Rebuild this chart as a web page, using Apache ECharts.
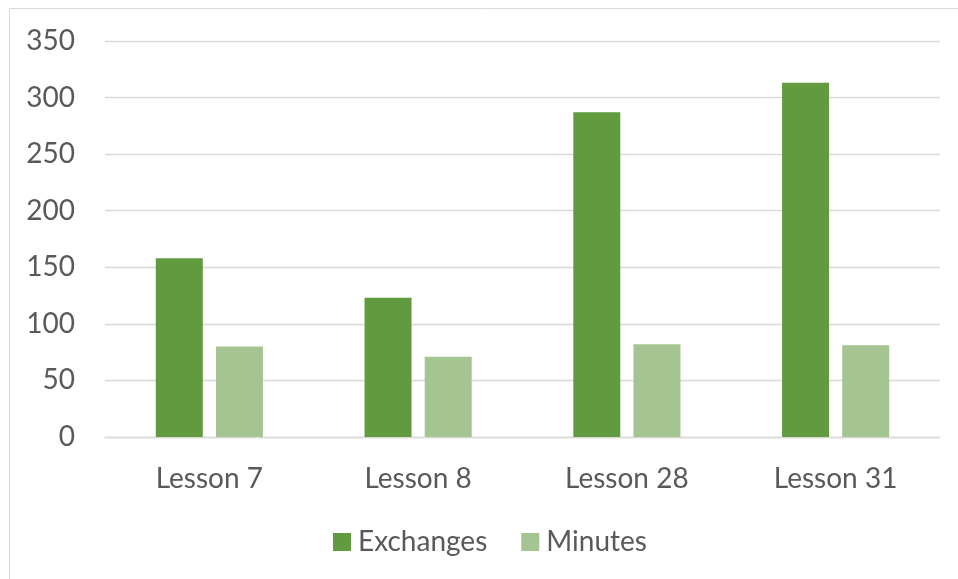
<!DOCTYPE html>
<html>
<head>
<meta charset="utf-8">
<script src="https://cdn.jsdelivr.net/npm/echarts@6/dist/echarts.min.js"></script>
<style>
  html, body { margin: 0; padding: 0; background: #ffffff; }
  #chart { width: 958px; height: 579px; }
</style>
</head>
<body>
<div id="chart"></div>
<script>
// Lesson categories and the two measured series
const lessons = ['Lesson 7', 'Lesson 8', 'Lesson 28', 'Lesson 31'];
const exchanges = [158, 123, 287, 313];
const minutes = [80, 71, 82, 81];
const seriesNames = ['Exchanges', 'Minutes'];

const textColor = '#595959';
const font = 'Lato';

const chart = echarts.init(document.getElementById('chart'), null, { renderer: 'canvas' });

chart.setOption({
  backgroundColor: '#ffffff',
  animation: false,
  graphic: [{
    type: 'rect',
    shape: { x: 9.5, y: 8.5, width: 1000, height: 1000 },
    style: { fill: 'none', stroke: '#d9d9d9', lineWidth: 1 },
    silent: true
  }],
  grid: { left: 105, right: 18, top: 41, bottom: 142, containLabel: false },
  legend: {
    data: seriesNames,
    left: 328,
    top: 523,
    icon: 'rect',
    itemWidth: 18,
    itemHeight: 18,
    itemGap: 34,
    textStyle: { color: textColor, fontFamily: font, fontSize: 28, padding: [0, 0, 0, 2] }
  },
  xAxis: {
    type: 'category',
    data: lessons,
    axisLine: { show: true, lineStyle: { color: '#d9d9d9', width: 1.3 } },
    axisTick: { show: false },
    axisLabel: { color: textColor, fontFamily: font, fontSize: 28, margin: 28 }
  },
  yAxis: {
    type: 'value',
    min: 0,
    max: 350,
    interval: 50,
    axisLine: { show: false },
    axisTick: { show: false },
    splitLine: { lineStyle: { color: '#d9d9d9', width: 1.3 } },
    axisLabel: { color: textColor, fontFamily: font, fontSize: 28, margin: 30 }
  },
  series: [
    {
      name: seriesNames[0],
      type: 'bar',
      data: exchanges,
      barWidth: 47,
      barGap: '28%',
      itemStyle: { color: '#629b3f' }
    },
    {
      name: seriesNames[1],
      type: 'bar',
      data: minutes,
      barWidth: 47,
      itemStyle: { color: '#a4c591' }
    }
  ]
});
</script>
</body>
</html>
